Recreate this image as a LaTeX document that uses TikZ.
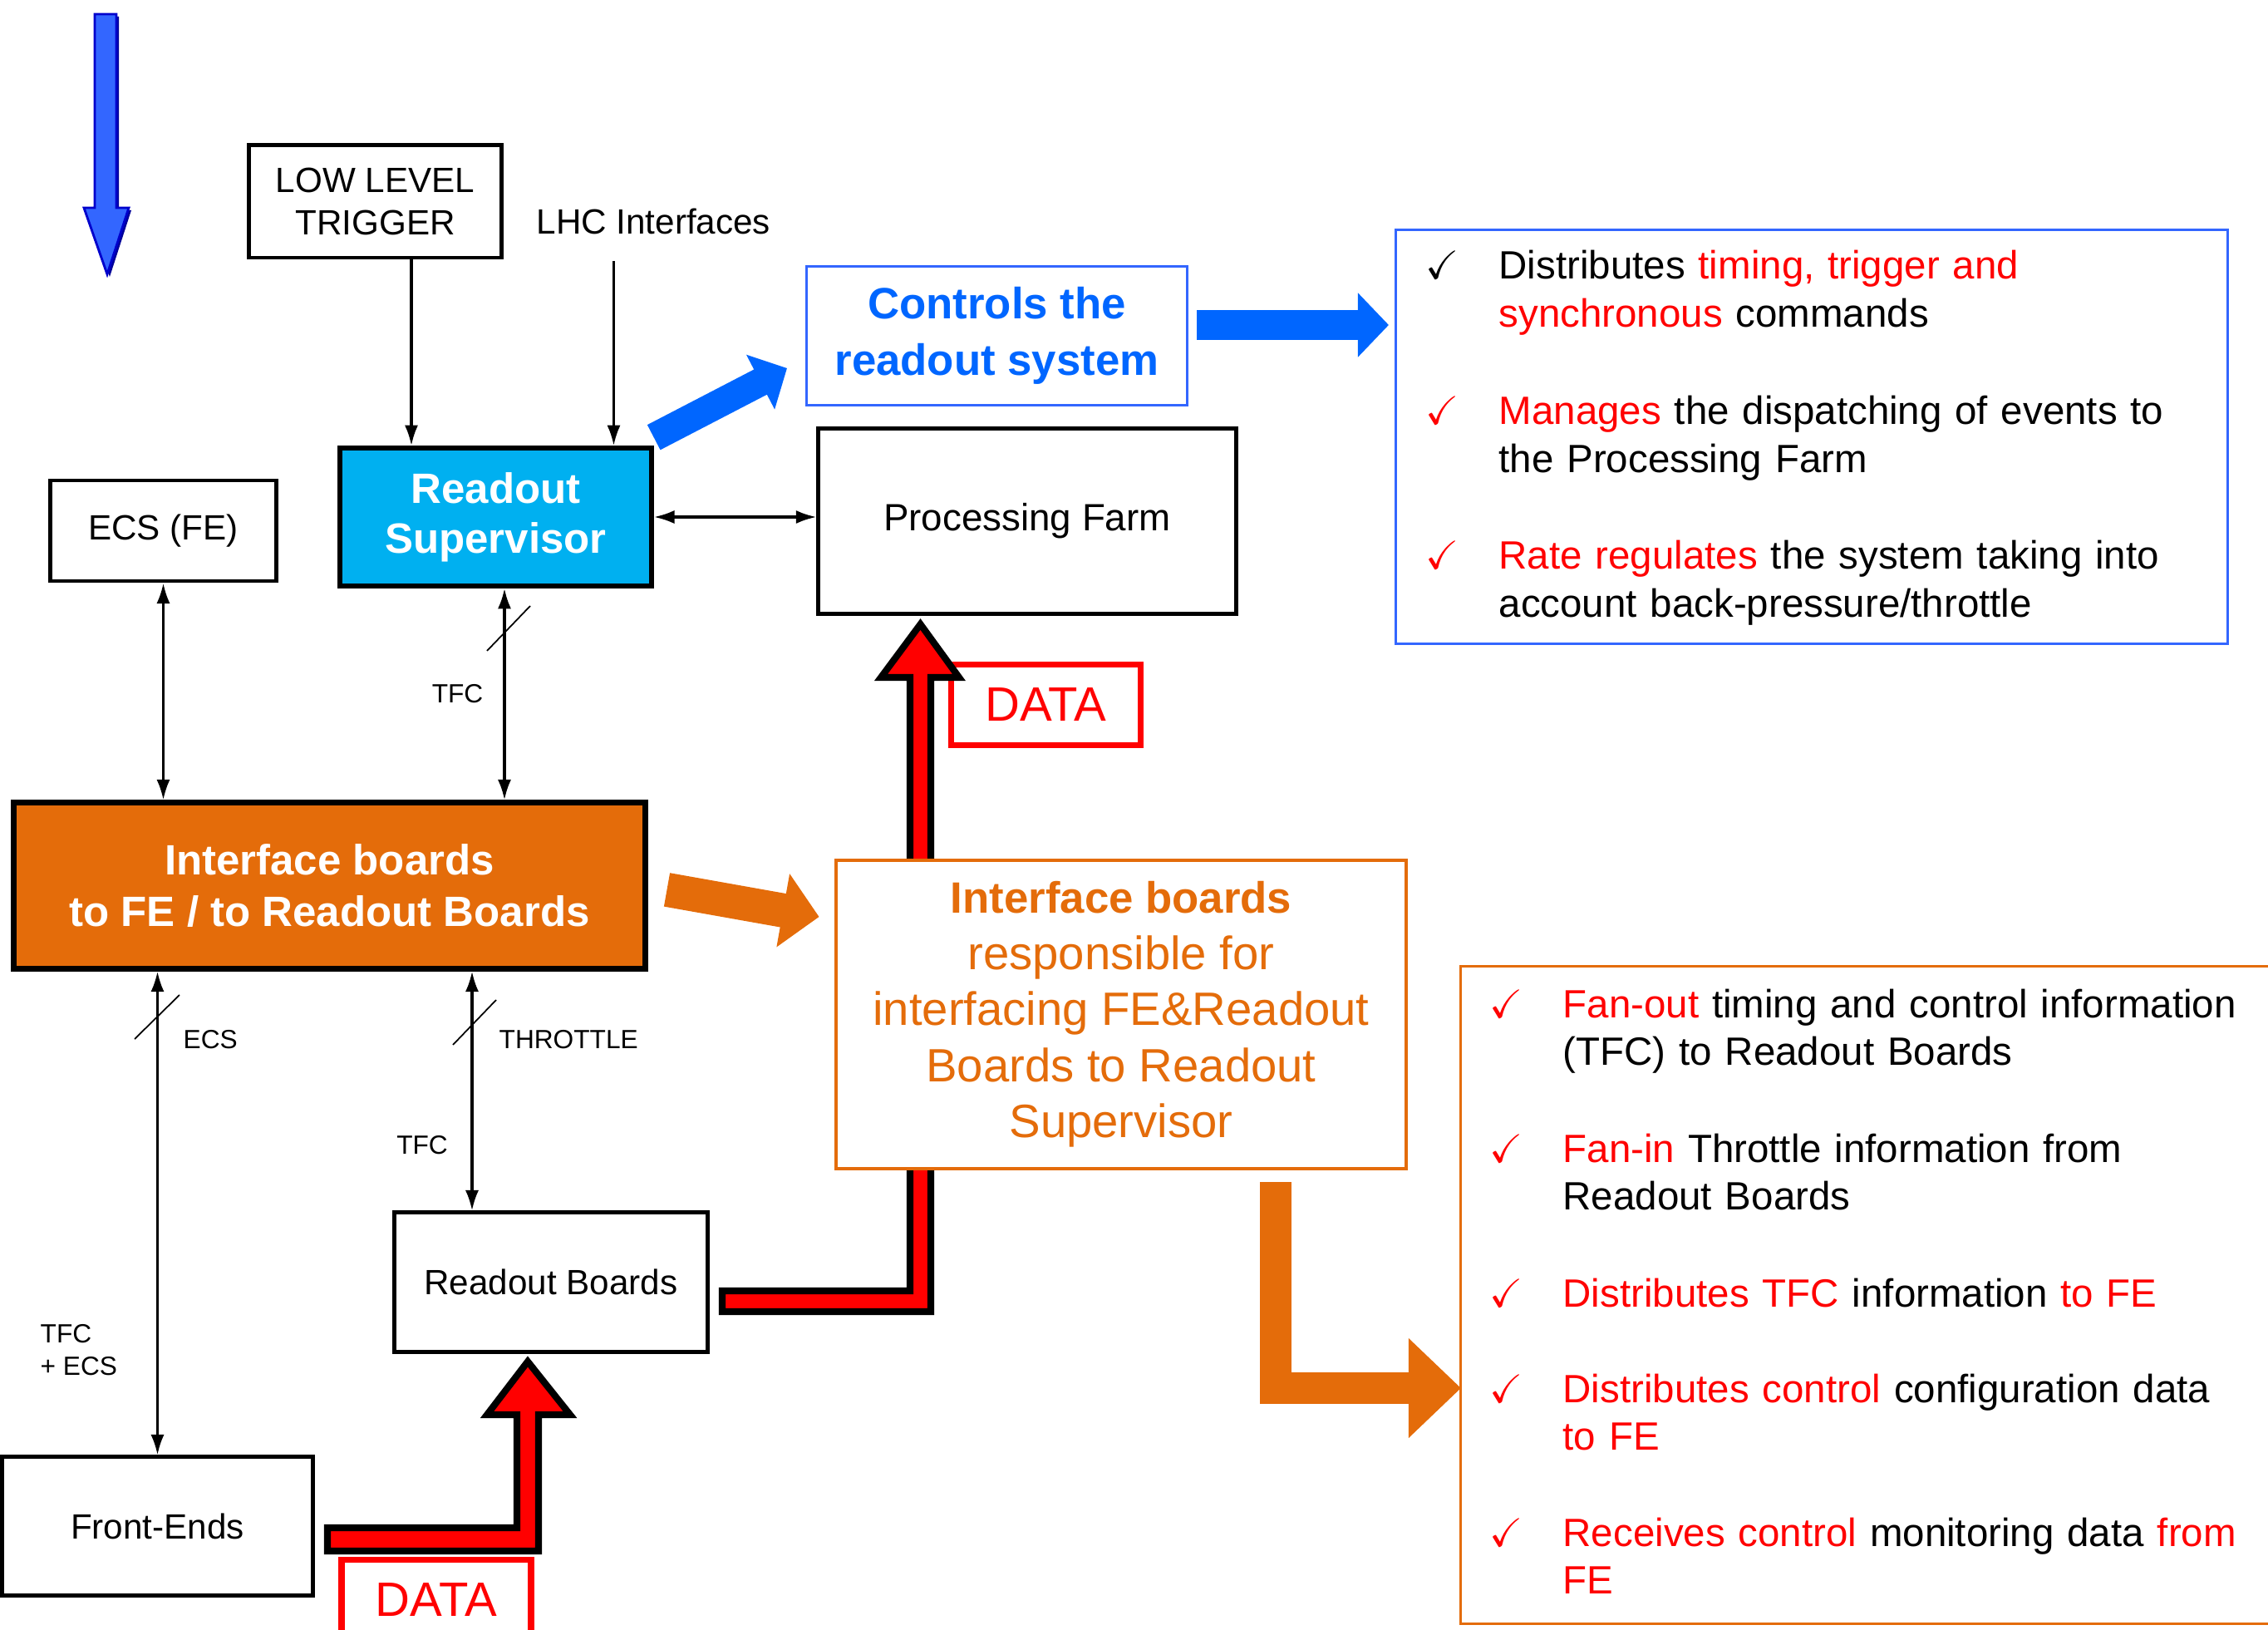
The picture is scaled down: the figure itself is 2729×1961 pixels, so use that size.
\documentclass[tikz,border=0pt]{standalone}
\usepackage{amssymb}
\usepackage{xcolor}
\usepackage{fontspec}
\setmainfont{Liberation Sans}
\usetikzlibrary{arrows.meta}
\definecolor{rsblue}{HTML}{00B0F0}
\definecolor{ctrlblue}{HTML}{0066FF}
\definecolor{lineblue}{HTML}{3366FF}
\definecolor{iborange}{HTML}{E46C0A}
\definecolor{datared}{HTML}{FF0000}
\newcommand{\ok}{$\checkmark$}
\newcommand{\hl}[1]{\textcolor{datared}{#1}}

\begin{document}
\begin{tikzpicture}[
			     x=0.01cm, y=-0.01cm,
			     box/.style={draw, line width=1.4pt, fill=white, align=center, inner sep=0pt, font=\fontsize{12}{14.3}\selectfont},
			     lbl/.style={inner sep=0pt, font=\fontsize{9}{11}\selectfont},
			     conn/.style={line width=0.9pt, -{Latex[length=7pt,width=4.6pt]}},
			     twoway/.style={line width=0.9pt, {Latex[length=7pt,width=4.6pt]}-{Latex[length=7pt,width=4.6pt]}},
			     slash/.style={line width=0.5pt},
			     datalbl/.style={draw=datared, line width=2.2pt, fill=white, text=datared, inner sep=0pt, minimum width=2.28cm, minimum height=0.97cm, font=\fontsize{16.5}{19}\selectfont},
			     redpipe/.style={fill=datared, draw=black, line width=2.3pt, line join=miter},
			     listitem/.style={anchor=base west, inner sep=0pt, align=left, text width=9cm, font=\fontsize{13.5}{16.4}\selectfont},
			     chk/.style={anchor=base west, inner sep=0pt, font=\fontsize{13.7}{16.4}\selectfont}
			     ]
\useasboundingbox (0,0) rectangle (2729,1961);
\clip (0,0) rectangle (2729,1961);
% big blue arrow, top left
\fill[blue!60!black] (117,20) -- (143,20) -- (143,253) -- (158,253) -- (132,333) -- (104,253) -- (117,253) -- cycle;
\draw[fill=lineblue, draw=blue!80!black, line width=0.8pt] (114,17) -- (140,17) -- (140,250) -- (155,250) -- (129,330) -- (101,250) -- (114,250) -- cycle;

\node[box, minimum width=3.03cm, minimum height=1.35cm] (llt) at (451.5,242.5) {LOW LEVEL\\TRIGGER};
\node[anchor=base west, inner sep=0pt, font=\fontsize{12}{14.3}\selectfont] (lhc) at (645,282) {LHC Interfaces};
\node[box, fill=rsblue, line width=1.6pt, text=white, minimum width=3.75cm, minimum height=1.66cm, font=\bfseries\fontsize{14.5}{17}\selectfont] (rs) at (596.5,622) {Readout\\Supervisor};
\node[box, minimum width=2.71cm, minimum height=1.21cm] (ecsfe) at (196.5,638.5) {ECS (FE)};
\node[box, minimum width=5.02cm, minimum height=2.22cm, font=\fontsize{13}{15.6}\selectfont] (pf) at (1236,627) {Processing Farm};
\node[box, draw=lineblue, line width=0.8pt, text=ctrlblue, minimum width=4.57cm, minimum height=1.67cm, font=\bfseries\fontsize{15}{19.3}\selectfont] (ctrl) at (1199.5,404) {Controls the\\readout system};
\node[box, fill=iborange, line width=2pt, text=white, minimum width=7.59cm, minimum height=1.99cm, font=\bfseries\fontsize{14.5}{17.4}\selectfont] (ib) at (396.5,1065.5) {Interface boards\\to FE / to Readout Boards};
\node[box, minimum width=3.76cm, minimum height=1.67cm] (rb) at (663,1542.5) {Readout Boards};
\node[box, minimum width=3.73cm, minimum height=1.66cm] (fe) at (189.5,1836) {Front-Ends};

% connectors
\coordinate (lltx) at (495,0);
\coordinate (lhcin) at (738.5,314);
\coordinate (tfcx) at (607,0);
\coordinate (thrx) at (568,0);
\draw[conn] (llt.south -| lltx) -- (rs.north -| lltx);
\draw[conn] (lhcin) -- (rs.north -| lhcin);
\draw[twoway] (rs.east) -- (rs.east -| pf.west);
\draw[twoway] (ecsfe.south) -- (ecsfe.south |- ib.north);
\draw[twoway] (rs.south -| tfcx) -- (ib.north -| tfcx);
\draw[twoway] (ib.south -| fe.north) -- (fe.north);
\draw[twoway] (ib.south -| thrx) -- (rb.north -| thrx);
\draw[slash] (586,783) -- (638,729);
\draw[slash] (162,1250) -- (216,1197);
\draw[slash] (545,1257) -- (597,1203);
\node[lbl, anchor=east] (tfcup) at (582,835) {TFC};
\node[lbl, anchor=west] (ecslbl) at (220,1251) {ECS};
\node[lbl, anchor=west] (thrlbl) at (600,1251) {THROTTLE};
\node[lbl, anchor=east] (tfclow) at (539.5,1378) {TFC};
\node[lbl, anchor=west, align=left] (tfcecs) at (48,1624) {TFC\\+ ECS};

% data paths
\node[datalbl] (data1) at (1258.5,848) {DATA};
\node[datalbl] (data2) at (525,1925) {DATA};
\draw[redpipe] (394,1838) -- (622,1838) -- (622,1702) -- (586,1702) -- (635,1638) -- (686,1702) -- (648,1702) -- (648,1866) -- (394,1866) -- cycle;
\draw[redpipe] (869,1553) -- (1095,1553) -- (1095,815) -- (1060,815) -- (1107.5,751) -- (1154,815) -- (1120,815) -- (1120,1578) -- (869,1578) -- cycle;

\node[box, draw=iborange, line width=1pt, text=iborange, minimum width=6.86cm, minimum height=3.71cm, font=\fontsize{16}{19.2}\selectfont] (ibtxt) at (1349,1220.5) {{\bfseries\fontsize{15}{19.2}\selectfont Interface boards}\\responsible for\\interfacing FE\&Readout\\Boards to Readout\\Supervisor};

% fat arrows
\coordinate (rsout) at (786.7,526.2);
\coordinate (ctrlin) at (947,443);
\coordinate (ctrlout) at (1440,391);
\coordinate (listin) at (1671,391);
\coordinate (ibout) at (802.5,1070.4);
\coordinate (ibin) at (985.6,1103);
\coordinate (txtout) at (1535,1422);
\coordinate (tasks) at (1758,1670);
\draw[ctrlblue, line width=0.34cm, -{Triangle[length=0.36cm,width=0.72cm]}] (rsout) -- (ctrlin);
\draw[ctrlblue, line width=0.36cm, -{Triangle[length=0.37cm,width=0.75cm]}] (ctrlout) -- (listin);
\draw[iborange, line width=0.41cm, -{Triangle[length=0.44cm,width=0.87cm]}] (ibout) -- (ibin);
\draw[iborange, line width=0.38cm, line join=miter, -{Triangle[length=0.63cm,width=1.16cm]}] (txtout) |- (tasks);

% readout supervisor tasks
\node[draw=lineblue, line width=0.9pt, inner sep=0pt, minimum width=10cm, minimum height=4.97cm] (rsbox) at (2180,525.5) {};
\node[chk] (rsck1) at (1715,336) {\ok};
\node[chk, text=datared] (rsck2) at (1715,511) {\ok};
\node[chk, text=datared] (rsck3) at (1715,685) {\ok};
\node[listitem] (rsit1) at (1803,336) {Distributes \hl{timing, trigger and}\\\hl{synchronous} commands};
\node[listitem] (rsit2) at (1803,511) {\hl{Manages} the dispatching of events to\\the Processing Farm};
\node[listitem] (rsit3) at (1803,685) {\hl{Rate regulates} the system taking into\\account back-pressure/throttle};

% interface board tasks
\node[draw=iborange, line width=0.9pt, inner sep=0pt, minimum width=9.87cm, minimum height=7.9cm] (ibbox) at (2251.5,1558) {};
\node[chk, text=datared] (ibck1) at (1792,1224) {\ok};
\node[chk, text=datared] (ibck2) at (1792,1398) {\ok};
\node[chk, text=datared] (ibck3) at (1792,1572) {\ok};
\node[chk, text=datared] (ibck4) at (1792,1687) {\ok};
\node[chk, text=datared] (ibck5) at (1792,1860) {\ok};
\node[listitem] (ibit1) at (1880,1224) {\hl{Fan-out} timing and control information\\(TFC) to Readout Boards};
\node[listitem] (ibit2) at (1880,1398) {\hl{Fan-in} Throttle information from\\Readout Boards};
\node[listitem] (ibit3) at (1880,1572) {\hl{Distributes TFC} information \hl{to FE}};
\node[listitem] (ibit4) at (1880,1687) {\hl{Distributes control} configuration data\\\hl{to FE}};
\node[listitem] (ibit5) at (1880,1860) {\hl{Receives control} monitoring data \hl{from}\\\hl{FE}};
\end{tikzpicture}
\end{document}
